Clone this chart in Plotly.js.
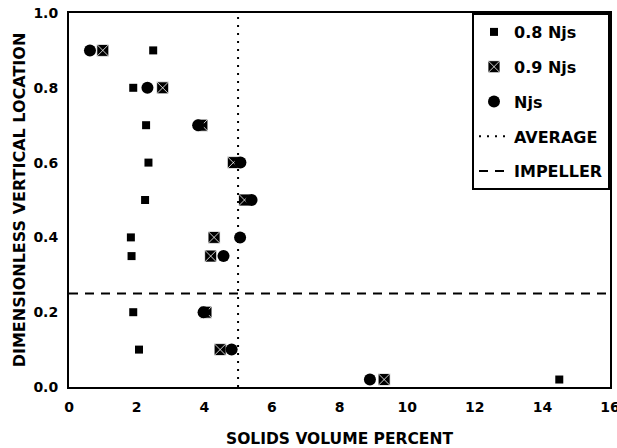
<!DOCTYPE html>
<html>
<head>
<meta charset="utf-8">
<script src="https://cdn.plot.ly/plotly-3.0.1.min.js"></script>
<style>html,body{margin:0;padding:0;background:#fff;}#chart{width:617px;height:448px;}</style>
</head>
<body>
<div id="chart"></div>
<script>
// Data
const locations = [0.9, 0.8, 0.7, 0.6, 0.5, 0.4, 0.35, 0.2, 0.1, 0.02];
const solids08 = [2.49, 1.9, 2.28, 2.35, 2.25, 1.83, 1.85, 1.9, 2.07, 14.5];
const solids09 = [1.0, 2.77, 3.93, 4.86, 5.19, 4.29, 4.19, 4.05, 4.47, 9.32];
const solidsNjs = [0.62, 2.32, 3.82, 5.07, 5.4, 5.06, 4.57, 3.98, 4.81, 8.9];
const averageX = [5, 5];
const averageY = [0, 1];
const impellerX = [0, 16];
const impellerY = [0.25, 0.25];
const seriesNames = ['0.8 Njs', '0.9 Njs', 'Njs', 'AVERAGE', 'IMPELLER'];
const xTicks = [0, 2, 4, 6, 8, 10, 12, 14, 16];
const yTicks = [0, 0.2, 0.4, 0.6, 0.8, 1.0];

const FONT = 'DejaVu Sans';
const traces = [
  {x: solids08, y: locations, name: seriesNames[0], mode: 'markers', type: 'scatter', legendgroup: 'a',
   marker: {symbol: 'square', size: 8, color: '#000'}},
  {x: solids09, y: locations, name: seriesNames[1], mode: 'markers', type: 'scatter', legendgroup: 'b',
   marker: {symbol: 'square-x', size: 12, color: '#000', line: {color: '#fff', width: 0.8}}},
  {x: solidsNjs, y: locations, name: seriesNames[2], mode: 'markers', type: 'scatter', legendgroup: 'c',
   marker: {symbol: 'circle', size: 12, color: '#000'}},
  {x: averageX, y: averageY, name: seriesNames[3], mode: 'lines', type: 'scatter', legendgroup: 'd',
   line: {color: '#000', width: 2, dash: '2px,6px'}},
  {x: impellerX, y: impellerY, name: seriesNames[4], mode: 'lines', type: 'scatter', legendgroup: 'e',
   line: {color: '#000', width: 2, dash: '9px,7px'}}
];

const layout = {
  width: 617, height: 448,
  margin: {l: 69, r: 7, t: 13, b: 61},
  paper_bgcolor: '#fff', plot_bgcolor: '#fff',
  font: {family: FONT, color: '#000', size: 14, weight: 'bold'},
  showlegend: true,
  legend: {x: 1, xanchor: 'right', y: 1, yanchor: 'top', bgcolor: '#fff',
    bordercolor: '#000', borderwidth: 2, tracegroupgap: 11,
    font: {family: FONT, size: 16, color: '#000', weight: 'bold'}},
  xaxis: {range: [0, 16], tickmode: 'array', tickvals: xTicks, ticklabeloverflow: 'allow',
    ticks: '', ticklabelstandoff: 6, showgrid: false, zeroline: false, showline: true, linecolor: '#000', linewidth: 2, mirror: true,
    tickfont: {family: FONT, size: 14, weight: 'bold'},
    title: {text: 'SOLIDS VOLUME PERCENT', standoff: 22, font: {family: FONT, size: 15.5, weight: 'bold'}}},
  yaxis: {range: [0, 1], tickmode: 'array', tickvals: yTicks, tickformat: '.1f',
    ticks: '', ticklabelstandoff: 6, showgrid: false, zeroline: false, showline: true, linecolor: '#000', linewidth: 2, mirror: true,
    tickfont: {family: FONT, size: 14, weight: 'bold'},
    title: {text: 'DIMENSIONLESS VERTICAL LOCATION', standoff: 4, font: {family: FONT, size: 16, weight: 'bold'}}}
};

Plotly.newPlot('chart', traces, layout, {displayModeBar: false, staticPlot: true});
</script>
</body>
</html>
